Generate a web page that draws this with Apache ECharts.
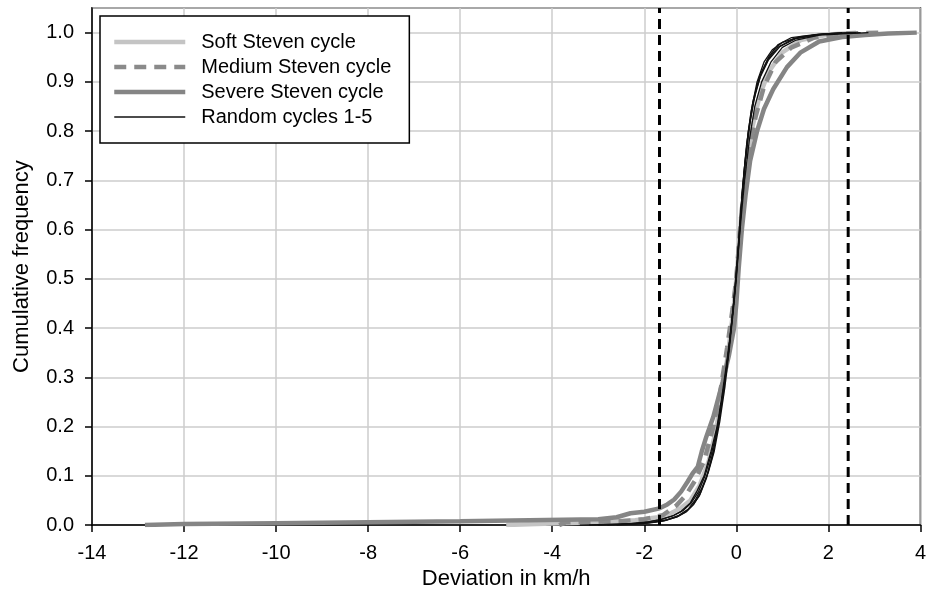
<!DOCTYPE html>
<html>
<head>
<meta charset="utf-8">
<script src="https://cdn.jsdelivr.net/npm/echarts@6/dist/echarts.min.js"></script>
<style>
  html, body { margin: 0; padding: 0; background: #fff; }
  #chart { width: 929px; height: 595px; }
</style>
</head>
<body>
<div id="chart"></div>
<script>
// cumulative frequency curves, [deviation km/h, cumulative frequency]
const softSteven = [[-5.0,0.0],[-4,0.003],[-3,0.006],[-2.2,0.01],[-1.7,0.016],[-1.4,0.025],[-1.2,0.035],[-1.0,0.05],[-0.8,0.08],[-0.6,0.13],[-0.45,0.19],[-0.3,0.27],[-0.18,0.35],[-0.06,0.44],[0.02,0.52],[0.1,0.62],[0.2,0.71],[0.33,0.8],[0.5,0.87],[0.7,0.92],[1.0,0.96],[1.4,0.985],[2.0,0.996],[2.6,1.0]];
const mediumSteven = [[-3.85,0.0],[-3.7,0.006],[-3.4,0.006],[-2.5,0.008],[-2,0.012],[-1.6,0.02],[-1.3,0.04],[-1.1,0.06],[-0.9,0.09],[-0.7,0.13],[-0.5,0.2],[-0.35,0.27],[-0.2,0.36],[-0.08,0.44],[0,0.5],[0.08,0.6],[0.16,0.68],[0.28,0.76],[0.42,0.83],[0.6,0.89],[0.85,0.94],[1.2,0.97],[1.7,0.99],[2.4,0.998],[3.2,1.0]];
const severeSteven = [[-12.85,0.0],[-12,0.002],[-10,0.004],[-8,0.006],[-6,0.008],[-4.5,0.01],[-3,0.012],[-2.6,0.016],[-2.3,0.024],[-2.0,0.027],[-1.67,0.034],[-1.5,0.042],[-1.35,0.052],[-1.2,0.068],[-1.06,0.088],[-0.95,0.105],[-0.84,0.118],[-0.75,0.15],[-0.65,0.18],[-0.5,0.22],[-0.4,0.255],[-0.3,0.29],[-0.16,0.345],[-0.05,0.4],[0.0,0.45],[0.05,0.52],[0.12,0.6],[0.2,0.67],[0.3,0.74],[0.45,0.8],[0.6,0.845],[0.8,0.885],[1.1,0.93],[1.4,0.96],[1.8,0.982],[2.3,0.991],[2.8,0.995],[3.3,0.998],[3.92,1.0]];
const random1 = [[-3.4,0],[-2.5,0.002],[-2,0.005],[-1.7,0.01],[-1.4,0.018],[-1.2,0.028],[-1.0,0.045],[-0.85,0.07],[-0.7,0.1],[-0.55,0.15],[-0.42,0.2],[-0.3,0.27],[-0.18,0.35],[-0.08,0.43],[0,0.5],[0.06,0.58],[0.12,0.66],[0.2,0.74],[0.3,0.82],[0.42,0.88],[0.55,0.92],[0.7,0.95],[0.9,0.975],[1.2,0.99],[1.7,0.996],[2.3,1.0]];
const random2 = [[-3.0,0],[-2.2,0.003],[-1.8,0.006],[-1.5,0.011],[-1.25,0.02],[-1.05,0.032],[-0.9,0.05],[-0.75,0.075],[-0.6,0.11],[-0.48,0.15],[-0.36,0.21],[-0.25,0.28],[-0.15,0.36],[-0.05,0.45],[0.02,0.53],[0.1,0.62],[0.18,0.7],[0.28,0.78],[0.4,0.85],[0.55,0.9],[0.75,0.94],[1.0,0.97],[1.3,0.985],[1.8,0.995],[2.87,1.0]];
const random3 = [[-2.8,0],[-2.0,0.004],[-1.6,0.008],[-1.3,0.016],[-1.1,0.026],[-0.95,0.04],[-0.8,0.06],[-0.65,0.095],[-0.52,0.14],[-0.4,0.2],[-0.28,0.27],[-0.17,0.35],[-0.07,0.44],[0,0.51],[0.07,0.6],[0.14,0.69],[0.22,0.77],[0.32,0.84],[0.45,0.9],[0.6,0.94],[0.78,0.965],[1.0,0.98],[1.4,0.992],[2.0,0.998],[2.6,1.0]];
const random4 = [[-3.2,0],[-2.3,0.003],[-1.9,0.007],[-1.6,0.012],[-1.35,0.02],[-1.15,0.03],[-0.98,0.045],[-0.82,0.068],[-0.68,0.1],[-0.54,0.145],[-0.43,0.19],[-0.32,0.25],[-0.21,0.32],[-0.1,0.41],[-0.02,0.49],[0.05,0.57],[0.11,0.65],[0.18,0.73],[0.26,0.8],[0.36,0.86],[0.5,0.91],[0.68,0.945],[0.9,0.97],[1.25,0.988],[1.8,0.997],[2.5,1.0]];
const random5 = [[-2.6,0],[-1.9,0.004],[-1.55,0.009],[-1.28,0.017],[-1.08,0.028],[-0.92,0.043],[-0.78,0.065],[-0.64,0.1],[-0.5,0.15],[-0.38,0.21],[-0.27,0.28],[-0.16,0.36],[-0.06,0.45],[0.02,0.54],[0.09,0.63],[0.16,0.71],[0.25,0.79],[0.37,0.86],[0.52,0.91],[0.7,0.945],[0.95,0.972],[1.3,0.988],[1.9,0.997],[2.7,1.0]];
const randomCycles = [random1, random2, random3, random4, random5];

// limits shown as dashed verticals
const limitLines = [-1.67, 2.43];

const chartDom = document.getElementById("chart");
const myChart = echarts.init(chartDom);
const font = "'Liberation Sans', Arial, sans-serif";

const series = [
    {
        name: "Soft Steven cycle", type: "line", data: softSteven,
        symbol: "none", lineStyle: { color: "#c4c4c4", width: 4.5 }, itemStyle: { color: "#c4c4c4" }
    },
    {
        name: "Medium Steven cycle", type: "line", data: mediumSteven,
        symbol: "none", lineStyle: { color: "#8a8a8a", width: 4.5, type: [12, 8] }, itemStyle: { color: "#8a8a8a" }
    },
    {
        name: "Severe Steven cycle", type: "line", data: severeSteven,
        symbol: "none", lineStyle: { color: "#858585", width: 4.5 }, itemStyle: { color: "#858585" }
    }
];
randomCycles.forEach((d) => {
    series.push({
        name: "Random cycles 1-5", type: "line", data: d,
        symbol: "none", lineStyle: { color: "#111", width: 1.3 }, itemStyle: { color: "#111" }
    });
});
limitLines.forEach((x) => {
    series.push({
        name: "limit", type: "line", data: [[x, 0], [x, 1.05]],
        symbol: "none", silent: true,
        lineStyle: { color: "#000", width: 3, type: [10, 6] }
    });
});

const option = {
    animation: false,
    backgroundColor: "#fff",
    textStyle: { fontFamily: font },
    grid: {
        left: 92, right: 6, top: 8, bottom: 68,
        show: true, borderColor: "#000", borderWidth: 1.5, backgroundColor: "transparent"
    },
    legend: {
        data: ["Soft Steven cycle", "Medium Steven cycle", "Severe Steven cycle", "Random cycles 1-5"],
        orient: "vertical",
        left: 100, top: 16,
        backgroundColor: "#fff",
        borderColor: "#000", borderWidth: 1.5, borderRadius: 0,
        padding: [16, 18, 16, 12],
        itemWidth: 71, itemHeight: 20, itemGap: 5,
        itemStyle: { opacity: 0 },
        lineStyle: { width: "inherit", type: "inherit" },
        textStyle: { fontSize: 20, color: "#000", fontFamily: font, padding: [0, 0, 0, 11] }
    },
    xAxis: {
        type: "value", min: -14, max: 4, interval: 2,
        name: "Deviation in km/h", nameLocation: "middle", nameGap: 42,
        nameTextStyle: { fontSize: 22, color: "#000", fontFamily: font },
        axisLine: { onZero: false, lineStyle: { color: "#000", width: 1.5 } },
        axisTick: { inside: false, length: 7, lineStyle: { color: "#000", width: 1.5 } },
        axisLabel: { fontSize: 20, color: "#000", margin: 18, fontFamily: font },
        splitLine: { lineStyle: { color: "#cccccc", width: 1.5 } }
    },
    yAxis: {
        type: "value", min: 0, max: 1.05, interval: 0.1,
        name: "Cumulative frequency", nameLocation: "middle", nameGap: 59,
        nameTextStyle: { fontSize: 22, color: "#000", fontFamily: font },
        axisLine: { onZero: false, lineStyle: { color: "#000", width: 1.5 } },
        axisTick: { inside: false, length: 7, lineStyle: { color: "#000", width: 1.5 } },
        axisLabel: {
            fontSize: 20, color: "#000", margin: 18, fontFamily: font, showMaxLabel: false,
            formatter: (v) => v.toFixed(1)
        },
        splitLine: { lineStyle: { color: "#cccccc", width: 1.5 } }
    },
    series: series
};

myChart.setOption(option);
</script>
</body>
</html>
